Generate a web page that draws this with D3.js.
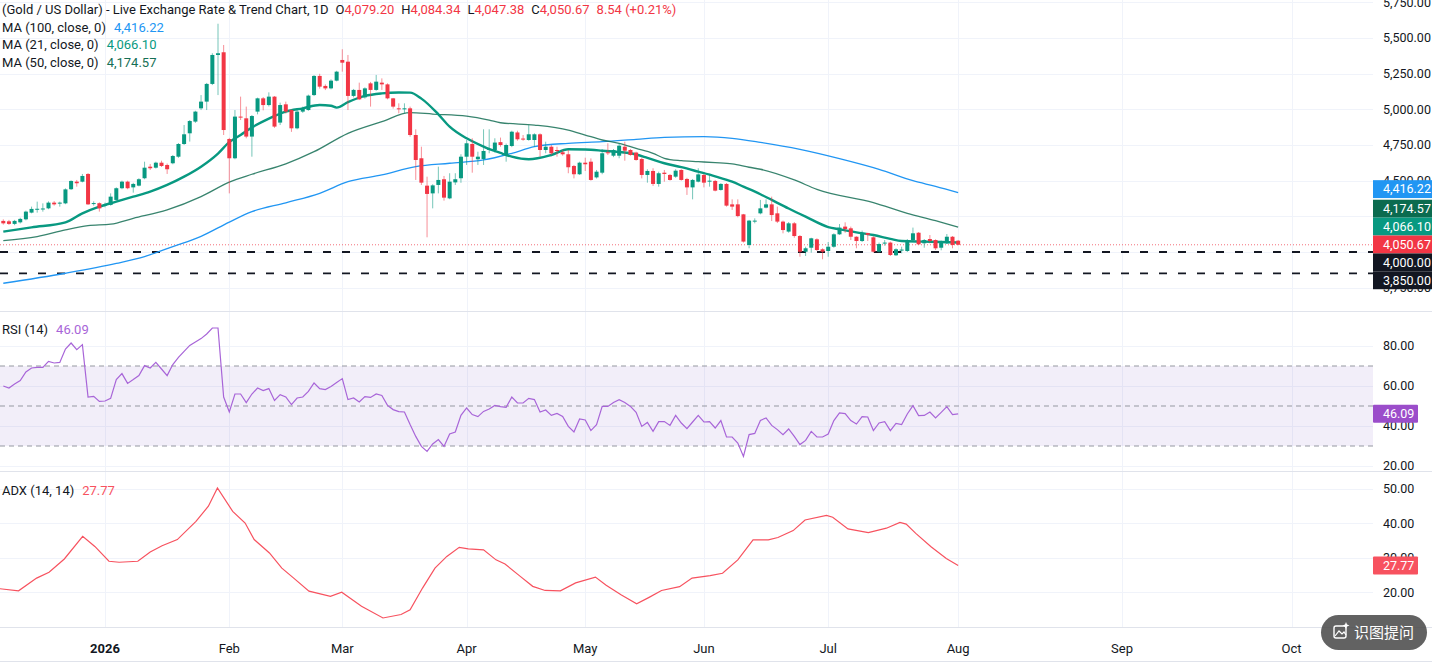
<!DOCTYPE html>
<html><head><meta charset="utf-8">
<script src="https://cdn.jsdelivr.net/npm/d3@7"></script>
<style>html,body{margin:0;padding:0;background:#fff;overflow:hidden}svg{display:block}</style>
</head><body><svg id="c" width="1432" height="663"></svg>
<script>
// ---------------- DATA ----------------
const openV  = [4218,4215,4197,4208,4229,4276,4298,4300,4306,4346,4342,4341,4440,4493,4493,4547,4336,4342,4327,4330,4365,4447,4493,4453,4465,4517,4598,4591,4626,4610,4622,4668,4757,4832,4914,5007,5054,5178,5381,5400,4792,4657,4949,4937,4809,4984,5077,5030,5089,4907,5035,4995,4867,4984,4995,5100,5234,5164,5147,5201,5346,5334,5094,5136,5084,5182,5136,5187,5175,5077,5007,5005,5007,4820,4657,4465,4411,4470,4510,4376,4488,4517,4668,4757,4650,4652,4718,4715,4770,4680,4743,4838,4795,4785,4785,4825,4715,4738,4715,4699,4685,4603,4545,4626,4633,4523,4556,4699,4675,4675,4738,4715,4697,4652,4540,4568,4477,4556,4540,4528,4575,4512,4453,4493,4540,4497,4498,4435,4477,4334,4334,4264,4049,4218,4271,4311,4334,4271,4213,4143,4201,4112,4002,4030,4089,4019,4007,4037,4124,4178,4166,4107,4077,4133,4103,4002,4063,4066,3977,4014,4007,4084,4135,4061,4091,4084,4030,4061,4107,4079.20];
const highV  = [4229,4225,4225,4240,4290,4318,4353,4341,4355,4357,4353,4446,4502,4505,4547,4553,4355,4348,4346,4411,4453,4500,4500,4485,4517,4633,4617,4633,4640,4620,4680,4764,4890,4925,4990,5100,5185,5393,5600,5451,4800,4995,5089,5019,4960,5082,5086,5119,5093,5047,5054,5000,4995,5019,5103,5240,5249,5175,5210,5270,5421,5381,5143,5187,5154,5192,5241,5217,5182,5080,5042,5042,5019,4860,4738,4528,4475,4598,4533,4552,4552,4685,4785,4797,4703,4860,4860,4797,4802,4760,4850,4850,4820,4890,4832,4832,4773,4750,4738,4715,4715,4610,4633,4661,4656,4575,4720,4762,4722,4762,4773,4722,4703,4661,4580,4587,4563,4575,4547,4580,4580,4520,4512,4587,4547,4544,4505,4483,4483,4369,4369,4267,4225,4236,4365,4369,4388,4318,4220,4210,4210,4119,4037,4100,4096,4026,4070,4131,4196,4208,4178,4110,4150,4135,4110,4066,4084,4073,4026,4037,4091,4171,4140,4091,4119,4089,4080,4126,4112,4084.34];
const lowV   = [4192,4190,4188,4200,4222,4271,4276,4283,4300,4325,4318,4335,4435,4458,4488,4330,4325,4283,4313,4325,4360,4440,4440,4416,4460,4510,4575,4585,4596,4547,4615,4660,4750,4774,4905,4995,4995,5170,5100,4820,4411,4650,4925,4797,4668,4965,4993,5020,4870,4890,4970,4842,4860,4975,4990,5093,5145,5135,5140,5196,5264,4995,5084,5065,5075,5019,5130,5136,5070,5005,4972,4972,4808,4505,4470,4103,4306,4411,4360,4370,4470,4485,4610,4556,4610,4610,4692,4697,4738,4633,4735,4780,4780,4780,4738,4668,4692,4680,4668,4675,4552,4516,4540,4568,4500,4515,4545,4680,4665,4657,4640,4675,4640,4516,4486,4463,4458,4493,4500,4520,4500,4400,4369,4488,4453,4458,4425,4430,4318,4295,4243,4066,4026,4201,4264,4306,4217,4203,4131,4135,4100,3967,3972,3995,4007,3949,3967,4030,4120,4135,4084,4026,4070,4077,3995,3995,4044,3972,3972,3991,4000,4077,4049,4030,4061,4014,4012,4056,4026,4047.38];
const closeV = [4201,4197,4218,4232,4283,4302,4303,4305,4346,4334,4346,4439,4498,4482,4533,4334,4343,4306,4332,4388,4447,4493,4447,4477,4510,4591,4587,4626,4603,4580,4673,4757,4825,4918,4984,5054,5178,5381,5393,4855,4657,4949,4942,4809,4953,5077,5030,5089,4879,5030,4984,4867,4984,5007,5096,5234,5159,5147,5201,5264,5327,5094,5136,5070,5147,5136,5194,5175,5077,5019,5005,5007,4820,4645,4486,4407,4467,4505,4381,4493,4510,4668,4762,4668,4668,4708,4722,4767,4750,4750,4843,4790,4790,4825,4825,4715,4738,4692,4710,4685,4594,4545,4626,4615,4505,4563,4692,4692,4715,4745,4710,4680,4645,4540,4568,4477,4552,4547,4505,4570,4505,4453,4505,4544,4486,4500,4430,4477,4325,4318,4252,4073,4220,4220,4306,4334,4259,4213,4154,4201,4112,4002,4026,4096,4014,4002,4037,4124,4171,4161,4107,4077,4131,4120,4002,4056,4066,3979,4019,4017,4084,4131,4054,4084,4077,4026,4073,4107,4049,4050.67];

// moving averages read at sample bars [bar, value]
const ma21Pts  = [[0,4143],[5,4173],[11,4208],[14,4271],[17,4318],[20,4353],[23,4388],[26,4423],[29,4470],[32,4528],[35,4598],[38,4690],[40,4770],[42,4820],[44,4873],[47,4935],[50,4984],[53,5007],[56,5030],[58,5025],[59,5012],[61,5050],[64,5094],[67,5112],[70,5118],[72,5117],[74,5075],[77,4965],[79,4879],[82,4797],[85,4739],[88,4694],[90,4668],[93,4650],[97,4680],[100,4720],[103,4718],[106,4710],[111,4692],[114,4660],[117,4622],[120,4595],[123,4563],[126,4530],[129,4493],[131,4458],[134,4405],[136,4365],[139,4305],[142,4248],[146,4175],[148,4159],[151,4138],[154,4119],[157,4092],[159,4077],[163,4073],[166,4070],[169,4066.10]];
const ma50Pts  = [[0,4080],[6,4108],[11,4155],[15,4185],[19,4195],[23,4236],[29,4295],[35,4388],[40,4490],[44,4545],[50,4618],[55,4703],[61,4832],[67,4914],[72,4977],[76,4967],[82,4953],[86,4925],[88,4906],[94,4890],[100,4855],[103,4820],[106,4785],[109,4762],[112,4727],[115,4692],[117,4657],[120,4640],[123,4633],[126,4626],[129,4617],[132,4594],[134,4580],[140,4505],[144,4439],[154,4346],[160,4271],[165,4220],[169,4174.57]];
const ma100Pts = [[0,3781],[11,3851],[20,3920],[25,3968],[30,4038],[35,4110],[40,4210],[44,4283],[50,4345],[56,4411],[61,4493],[67,4540],[73,4598],[79,4622],[85,4645],[90,4692],[94,4738],[100,4762],[106,4773],[112,4790],[117,4804],[124,4808],[129,4797],[134,4769],[141,4720],[148,4655],[155,4580],[161,4500],[165,4460],[169,4416.22]];

const rsiV = [60,59,61,62.7,67,69,69.3,69.3,72.3,71.5,71.8,78.5,81.5,78.2,80.7,54.5,54.8,52.3,52.5,53.8,63.2,66.2,61.3,63.2,65.2,70.2,69,71.8,68.5,65.2,70.7,74.3,77.3,80.3,82,83.7,86,89,89,54.5,47,56,56,51.7,56,59,57.7,58.7,52.8,55.7,54.5,50.7,54,54.5,57.3,61.5,58.7,58.2,59.8,61.8,63.7,53.2,54,52,54.7,54.3,56,55.3,50.3,48.2,47.2,47,40.7,34.8,29.8,27.3,31,33.2,29.8,36,37,45.3,49,45.7,44.7,47.3,48.5,50.3,49.7,49.3,54.5,51.5,51.5,53.8,53.2,47,48,45.3,46.3,44.8,39.8,37,43.5,43,37.7,40.7,49.8,49.8,51.8,53.2,51.8,49.8,46.8,39.8,41.8,37.3,42.2,42.2,40.3,45.3,41.5,38.7,42,45.3,42,42.2,39,42.7,34.5,34.5,31.5,24.8,35.7,36.3,42.8,44,40.3,38.2,35.7,38.5,34.8,30.7,32.8,37.3,34.5,34.5,36,42.7,46.5,46.2,42.7,41,44.7,44.5,37.7,41.5,42.2,37.7,41.3,40.7,46,50.2,45.2,45.3,47,44,46.8,49.7,45.7,46.09];

const adxPts = [[-0.6,21.0],[2.7,20.4],[5.9,24.1],[8.1,25.8],[10.8,29.65],[14.05,36.25],[16.2,33.3],[18.7,29.0],[20.5,28.7],[23.8,29.0],[26,31.7],[28.1,33.5],[30.8,35.3],[34.1,40.6],[36.3,45.0],[37.9,50.3],[40.6,43.5],[42.8,40.1],[44.4,35.3],[47.1,31.4],[49.3,27.0],[51.4,24.1],[54.1,20.3],[57.9,18.8],[59.9,20.0],[63.4,15.9],[67.2,12.5],[70.4,13.5],[72,14.9],[74.2,21.2],[76.4,27.0],[78.5,30.4],[80.7,33.05],[82.3,32.6],[85,32.3],[87.2,29.4],[88.8,28.2],[91.5,24.6],[93.7,21.7],[95.9,20.5],[98.6,20.4],[101.3,22.7],[104.8,24.4],[106.7,22.0],[109.4,19.2],[112.1,16.6],[114.3,18.5],[116.5,20.5],[119.7,21.6],[121.9,24.1],[125.1,24.8],[127.3,25.5],[130,29.4],[132.7,35.2],[135.4,35.2],[137.1,35.9],[139.8,37.9],[141.9,41.0],[145.7,42.3],[146.8,41.8],[149.5,38.4],[153.1,37.3],[156.3,38.6],[158.7,40.3],[159.8,39.8],[161.5,37.1],[164.2,33.2],[166.9,29.8],[169,27.77]];

const monthLabels = ["2026","Feb","Mar","Apr","May","Jun","Jul","Aug","Sep","Oct"];
const monthBars   = [18,40,60,82,103,124,146,169,198,228];
const priceTicks  = [3750,4000,4250,4500,4750,5000,5250,5500,5750];
const rsiTicks    = [20,40,60,80];
const adxTicks    = [20,30,40,50];
const levelLines  = [4000,3850];

const last = {o:"4,079.20",h:"4,084.34",l:"4,047.38",c:"4,050.67",chg:"8.54 (+0.21%)"};

// ---------------- LAYOUT ----------------
const W=1432, H=663, PR=1373;
const panes = {price:[0,311], rsi:[312,471], adx:[472,627]};
const GREEN="#089981", RED="#F23645", BLUE="#2196F3", MA50C="#156f55", RSIC="#A865D8", ADXC="#F7525F";
const FONT="Roboto, 'Noto Sans', sans-serif";
const svg=d3.select("#c");
svg.append("rect").attr("width",W).attr("height",H).attr("fill","#fff");

const x=d3.scaleLinear().domain([0,169]).range([3.3,958.15]);
const yP=d3.scaleLinear().domain([3586.5,5766.3]).range([311,0]);
const yR=d3.scaleLinear().domain([17.5,97]).range([471,312]);
const yA=d3.scaleLinear().domain([9.88,54.94]).range([627,472]);
const fmt=d3.format(",.2f");

const grid=svg.append("g").attr("stroke","#f0f3fa").attr("stroke-width",1);
priceTicks.forEach(t=>grid.append("line").attr("x1",0).attr("x2",PR).attr("y1",Math.round(yP(t))+0.5).attr("y2",Math.round(yP(t))+0.5));
rsiTicks.forEach(t=>grid.append("line").attr("x1",0).attr("x2",PR).attr("y1",Math.round(yR(t))+0.5).attr("y2",Math.round(yR(t))+0.5));
adxTicks.forEach(t=>grid.append("line").attr("x1",0).attr("x2",PR).attr("y1",Math.round(yA(t))+0.5).attr("y2",Math.round(yA(t))+0.5));
Object.values(panes).forEach(([a,b])=>{
  monthBars.forEach(m=>grid.append("line").attr("x1",Math.round(x(m))+0.5).attr("x2",Math.round(x(m))+0.5).attr("y1",a).attr("y2",b));
});

const sep=svg.append("g").attr("stroke","#e0e3eb").attr("stroke-width",1);
[311.5,471.5,627.5,661.5].forEach(y=>sep.append("line").attr("x1",0).attr("x2",W).attr("y1",y).attr("y2",y));

// RSI band
svg.append("rect").attr("x",0).attr("width",PR).attr("y",yR(70)).attr("height",yR(30)-yR(70)).attr("fill","rgba(126,87,194,0.1)");
[70,50,30].forEach(v=>svg.append("line").attr("x1",0).attr("x2",PR).attr("y1",yR(v)).attr("y2",yR(v))
  .attr("stroke","#9598a1").attr("stroke-width",1).attr("stroke-dasharray","5,4"));

// level lines
levelLines.forEach(v=>svg.append("line").attr("x1",0).attr("x2",PR).attr("y1",yP(v)).attr("y2",yP(v))
  .attr("stroke","#131722").attr("stroke-width",1.8).attr("stroke-dasharray","8,11"));
svg.append("line").attr("x1",0).attr("x2",PR).attr("y1",yP(closeV[closeV.length-1])).attr("y2",yP(closeV[closeV.length-1]))
  .attr("stroke",RED).attr("stroke-width",1).attr("stroke-dasharray","1,2").attr("opacity",0.7);

// MA lines
const lineMA=d3.line().x(d=>x(d[0])).y(d=>yP(d[1])).curve(d3.curveMonotoneX);
svg.append("path").attr("d",lineMA(ma100Pts)).attr("fill","none").attr("stroke",BLUE).attr("stroke-width",1.3);
svg.append("path").attr("d",lineMA(ma50Pts)).attr("fill","none").attr("stroke",MA50C).attr("stroke-width",1.3).attr("opacity",0.85);
svg.append("path").attr("d",lineMA(ma21Pts)).attr("fill","none").attr("stroke",GREEN).attr("stroke-width",2.4);

// candles
const candles=svg.append("g");
const bw=4;
openV.forEach((o,i)=>{
  const c=closeV[i], h=highV[i], l=lowV[i];
  const col = c>=o?GREEN:RED;
  const cx=x(i);
  candles.append("line").attr("x1",cx).attr("x2",cx).attr("y1",yP(h)).attr("y2",yP(l)).attr("stroke",col).attr("stroke-width",1).attr("opacity",0.55);
  const top=yP(Math.max(o,c)), bot=yP(Math.min(o,c));
  candles.append("rect").attr("x",cx-bw/2).attr("width",bw).attr("y",top).attr("height",Math.max(1,bot-top)).attr("fill",col);
});

svg.append("path").attr("d",d3.line().x((d,i)=>x(i)).y(d=>yR(d))(rsiV)).attr("fill","none").attr("stroke",RSIC).attr("stroke-width",1.2);
svg.append("path").attr("d",d3.line().x(d=>x(d[0])).y(d=>yA(d[1]))(adxPts)).attr("fill","none").attr("stroke",ADXC).attr("stroke-width",1.2);

// value boxes with collision avoidance
const BH=17.9;
function placeBoxes(items,bh,shift){
  items.sort((a,b)=>a.y-b.y);
  let clusters=items.map(it=>({members:[it]}));
  const layout=cl=>{const m=d3.mean(cl.members,d=>d.y)+shift;const n=cl.members.length;cl.top=m-n*bh/2;cl.bot=m+n*bh/2;};
  clusters.forEach(layout);
  let changed=true;
  while(changed){changed=false;
    for(let k=1;k<clusters.length;k++){
      if(clusters[k].top<clusters[k-1].bot){clusters[k-1].members=clusters[k-1].members.concat(clusters[k].members);clusters.splice(k,1);layout(clusters[k-1]);changed=true;break;}
    }
  }
  clusters.forEach(cl=>cl.members.forEach((it,j)=>{it.py=cl.top+j*bh;}));
  return {items,clusters};
}
const placed=placeBoxes([
  {v:4416.22,y:yP(4416.22),c:BLUE},
  {v:4174.57,y:yP(4174.57),c:"#0b6b4f"},
  {v:4066.10,y:yP(4066.10),c:GREEN},
  {v:closeV[closeV.length-1],y:yP(closeV[closeV.length-1]),c:RED},
  {v:levelLines[0],y:yP(levelLines[0]),c:"#131722"},
  {v:levelLines[1],y:yP(levelLines[1]),c:"#131722"}
],BH,-3.5);
const priceBoxes=placed.items;
// tick labels completely covered by a block of boxes are not drawn (they are invisible in the reference)
const hidden=y=>placed.clusters.some(cl=>y>cl.top+3&&y<cl.bot-3);

// axis labels
const ax=svg.append("g").attr("font-family",FONT).attr("font-size",12.5).attr("fill","#131722");
priceTicks.filter(t=>!hidden(yP(t))).forEach(t=>ax.append("text").attr("x",1383).attr("y",yP(t)).attr("dy","0.35em").text(fmt(t)));
rsiTicks.forEach(t=>ax.append("text").attr("x",1383).attr("y",yR(t)).attr("dy","0.35em").text(fmt(t)));
adxTicks.forEach(t=>ax.append("text").attr("x",1383).attr("y",yA(t)).attr("dy","0.35em").text(fmt(t)));
monthLabels.forEach((m,k)=>ax.append("text").attr("x",x(monthBars[k])).attr("y",648).attr("dy","0.35em")
  .attr("text-anchor","middle").attr("font-size",13).attr("font-weight",k===0?"bold":"normal").text(m));

const bx=svg.append("g").attr("font-family",FONT).attr("font-size",12.5);
priceBoxes.forEach(b=>{
  bx.append("rect").attr("x",PR).attr("y",b.py).attr("width",W-PR).attr("height",BH).attr("fill",b.c);
  bx.append("text").attr("x",1383).attr("y",b.py+BH/2).attr("dy","0.35em").attr("fill","#fff").text(fmt(b.v));
});
[[rsiV[rsiV.length-1],yR,"#9B4DCA"],[adxPts[adxPts.length-1][1],yA,ADXC]].forEach(([v,s,c])=>{
  bx.append("rect").attr("x",PR).attr("y",s(v)-9).attr("width",45).attr("height",18).attr("rx",1).attr("fill",c);
  bx.append("text").attr("x",1383).attr("y",s(v)).attr("dy","0.35em").attr("fill","#fff").text(d3.format(".2f")(v));
});

// legends
function legendRow(y,parts,x0){
  let cx=x0;
  const g=svg.append("g").attr("font-family",FONT).attr("font-size",13);
  parts.forEach(p=>{
    cx+=p.gap||0;
    const t=g.append("text").attr("x",cx).attr("y",y).attr("dy","0.35em").attr("fill",p.c).text(p.t);
    cx+=t.node().getComputedTextLength();
  });
}
const DARK="#131722";
legendRow(9,[{t:"(Gold / US Dollar) - Live Exchange Rate & Trend Chart, 1D",c:DARK},
  {t:"O",c:DARK,gap:7},{t:last.o,c:RED},{t:"H",c:DARK,gap:7},{t:last.h,c:RED},
  {t:"L",c:DARK,gap:7},{t:last.l,c:RED},{t:"C",c:DARK,gap:7},{t:last.c,c:RED},{t:last.chg,c:RED,gap:7}],2);
legendRow(27,[{t:"MA (100, close, 0)",c:DARK},{t:fmt(ma100Pts[ma100Pts.length-1][1]),c:BLUE,gap:8}],2);
legendRow(44.5,[{t:"MA (21, close, 0)",c:DARK},{t:fmt(ma21Pts[ma21Pts.length-1][1]),c:GREEN,gap:8}],2);
legendRow(62,[{t:"MA (50, close, 0)",c:DARK},{t:fmt(ma50Pts[ma50Pts.length-1][1]),c:MA50C,gap:8}],2);
legendRow(329,[{t:"RSI (14)",c:DARK},{t:d3.format(".2f")(rsiV[rsiV.length-1]),c:RSIC,gap:8}],2);
legendRow(490,[{t:"ADX (14, 14)",c:DARK},{t:d3.format(".2f")(adxPts[adxPts.length-1][1]),c:ADXC,gap:8}],2);

// overlay button
const btn=svg.append("g");
btn.append("rect").attr("x",1321).attr("y",615).attr("width",106).attr("height",35).attr("rx",17.5).attr("fill","rgba(70,70,70,0.85)");
btn.append("rect").attr("x",1334).attr("y",626).attr("width",12).attr("height",12).attr("rx",2).attr("fill","none").attr("stroke","#fff").attr("stroke-width",1.4);
btn.append("path").attr("d","M1335,636 L1339,631 L1342,634 L1344,632 L1346,635").attr("fill","none").attr("stroke","#fff").attr("stroke-width",1.2);
btn.append("path").attr("d","M1346,622 l1,2.5 l2.5,1 l-2.5,1 l-1,2.5 l-1,-2.5 l-2.5,-1 l2.5,-1 z").attr("fill","#fff");
btn.append("text").attr("x",1354).attr("y",633).attr("dy","0.35em").attr("font-family","'Noto Sans CJK SC', sans-serif").attr("font-size",15).attr("fill","#fff").text("识图提问");
</script></body></html>
